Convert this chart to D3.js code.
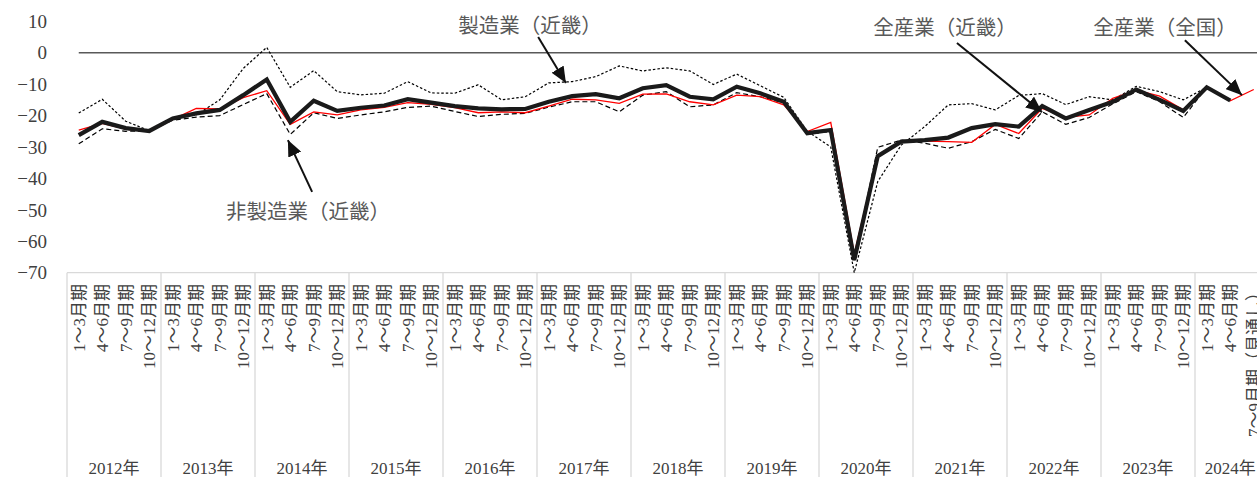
<!DOCTYPE html>
<html>
<head>
<meta charset="utf-8">
<script src="https://cdn.jsdelivr.net/npm/d3@7"></script>
<style>
  body { margin: 0; background: #fff; }
</style>
</head>
<body>
<svg id="chart" width="1257" height="477"></svg>
<script>
// 期間
var years = [2012, 2013, 2014, 2015, 2016, 2017, 2018, 2019, 2020, 2021, 2022, 2023, 2024]
var quarters = ["1～3月期", "4～6月期", "7～9月期", "10～12月期"]
var lastLabel = "7～9月期（見通し）"
var yTicks = [10, 0, -10, -20, -30, -40, -50, -60, -70]

// 全産業（近畿）
var kinkiAll = [-26.2, -22, -24, -24.9, -20.9, -19.3, -18.2, -13.5, -8.5, -22, -15.3, -18.5,
  -17.5, -16.8, -14.8, -15.9, -17, -17.7, -18, -17.9, -15.6, -13.8, -13.2, -14.5,
  -11.3, -10.3, -14, -14.8, -10.8, -12.9, -15.6, -25.6, -24.6, -66, -32.9, -28.3,
  -27.8, -27, -24, -22.7, -23.5, -17, -20.9, -18.2, -15.6, -11.7, -15, -18.5, -11, -15.2]
// 全産業（全国）
var nationAll = [-24.6, -22.5, -24.3, -25.1, -21.2, -17.7, -17.9, -14.3, -12.1, -22.8, -18.8, -19.8,
  -18.2, -17.4, -15.9, -16.4, -17.5, -19.1, -18.8, -19.1, -17, -14.8, -15, -16.1,
  -13.2, -13.1, -15.6, -16.6, -13.5, -14, -16.6, -25.1, -22.2, -64, -32.6, -28.1,
  -28.1, -28.3, -28.5, -22.8, -25.7, -17.7, -20.6, -19.8, -14.5, -11.9, -13.8, -18.2, -11, -15.3, -11.7]
// 製造業（近畿）
var kinkiMfg = [-19.2, -14.8, -21.8, -24.8, -20.9, -19.8, -15, -5, 1.7, -11, -5.7, -12.4,
  -13.4, -12.9, -9.2, -12.8, -12.9, -10.2, -15, -14, -9.6, -9.2, -7.6, -4.2,
  -5.8, -4.8, -5.8, -10.1, -6.8, -10.5, -14.2, -25, -30, -70, -41, -29.4,
  -23.5, -16.6, -16.2, -18.2, -13.6, -13, -16.5, -14, -15, -10.7, -12.4, -15, -11]
// 非製造業（近畿）
var kinkiNonMfg = [-29, -24.2, -25, -24.9, -21.5, -20.5, -20, -16.5, -13, -26, -19.1, -20.9,
  -19.8, -18.8, -17.4, -17, -18.7, -20.3, -19.6, -19.3, -17.3, -15.6, -15.6, -18.8,
  -13.5, -12.4, -17.2, -16.6, -12.7, -14, -15.9, -26, -25, -66, -30.1, -27.8,
  -28.8, -30.4, -28.3, -24.4, -27.3, -18.8, -22.8, -20.6, -16.3, -12.4, -15.6, -20.6, -11]

// 注記: [ラベル, 文字位置(期,値), 矢印の根元(期,値), 矢印の先(期,値)]
var notes = [
  ["製造業（近畿）", 19.2, 8.5, 19.55, 5, 20.73, -9.6],
  ["非製造業（近畿）", 9.76, -50.7, 9.93, -44.3, 8.9, -27.8],
  ["全産業（近畿）", 36.86, 7.9, 37.37, 3.1, 40.99, -18.9],
  ["全産業（全国）", 46.22, 7.9, 47.07, 4, 49.5, -13.5]
]

var width = 1257, height = 477
var font = "'Liberation Serif', 'Times New Roman', 'Noto Sans CJK JP', serif"
var svg = d3.select("#chart").attr("font-family", font)

var labels = []
years.forEach(y => quarters.forEach(q => labels.push(q)))
labels = labels.slice(0, nationAll.length)
labels[labels.length - 1] = lastLabel
var idx = d3.range(labels.length)

var x = d3.scaleBand().domain(idx).range([67, 67 + 23.5 * labels.length]).padding(0)
var xc = i => x(i) + x.bandwidth() / 2
var xf = v => x(0) + x.bandwidth() * (v + 0.5)  // 小数の期位置
var y = d3.scaleLinear().domain([-70, 10]).range([272.7, 21.3])

// カテゴリ枠
var grid = svg.append("g").attr("stroke", "#d9d9d9").attr("stroke-width", 1.3)
grid.append("line")
  .attr("x1", x(0)).attr("x2", width)
  .attr("y1", y(-70)).attr("y2", y(-70))
grid.selectAll(".sep")
  .data(years.map((d, k) => k * 4))
  .join("line")
  .attr("class", "sep")
  .attr("x1", d => x(d)).attr("x2", d => x(d))
  .attr("y1", y(-70)).attr("y2", height)

// y軸ラベル
svg.append("g").selectAll("text")
  .data(yTicks)
  .join("text")
  .attr("x", 47)
  .attr("y", d => y(d))
  .attr("dy", "0.35em")
  .attr("text-anchor", "end")
  .attr("font-size", 19)
  .attr("font-family", font)
  .attr("fill", "#404040")
  .text(d => d < 0 ? "−" + Math.abs(d) : d)

// 0 の線
svg.append("line")
  .attr("x1", xc(0)).attr("x2", width)
  .attr("y1", y(0)).attr("y2", y(0))
  .attr("stroke", "#595959").attr("stroke-width", 1.5)

// 四半期ラベル（縦）
svg.append("g").selectAll("text")
  .data(idx)
  .join("text")
  .attr("transform", d => "translate(" + (xc(d) + 6) + "," + 284 + ") rotate(-90)")
  .attr("text-anchor", "end")
  .attr("font-size", 17)
  .attr("font-family", font)
  .attr("fill", "#404040")
  .text(d => labels[d])

// 年ラベル
svg.append("g").selectAll("text")
  .data(years)
  .join("text")
  .attr("x", (d, k) => {
    var a = x(k * 4), b = Math.min(x(k * 4) + x.bandwidth() * 4, x(0) + x.bandwidth() * labels.length)
    return (a + b) / 2
  })
  .attr("y", 474)
  .attr("text-anchor", "middle")
  .attr("font-size", 17)
  .attr("font-family", font)
  .attr("fill", "#404040")
  .text(d => d + "年")

// 折れ線
var line = d3.line().x((d, i) => xc(i)).y(d => y(d))
var series = [
  { data: kinkiNonMfg, color: "#000", w: 1.2, dash: "5,3" },
  { data: kinkiMfg, color: "#000", w: 1.2, dash: "2.5,2" },
  { data: nationAll, color: "#ff0000", w: 1.3, dash: null },
  { data: kinkiAll, color: "#1a1a1a", w: 4.2, dash: null }
]
svg.append("g").selectAll("path")
  .data(series)
  .join("path")
  .attr("d", d => line(d.data))
  .attr("fill", "none")
  .attr("stroke", d => d.color)
  .attr("stroke-width", d => d.w)
  .attr("stroke-dasharray", d => d.dash)
  .attr("stroke-linejoin", "miter")

// 矢印
svg.append("defs").append("marker")
  .attr("id", "arrow")
  .attr("markerUnits", "userSpaceOnUse")
  .attr("viewBox", "0 0 16 14")
  .attr("refX", 16).attr("refY", 7)
  .attr("markerWidth", 16).attr("markerHeight", 14)
  .attr("orient", "auto")
  .append("path")
  .attr("d", "M0,0 L16,7 L0,14 Z")
  .attr("fill", "#111")

var ann = svg.append("g")
ann.selectAll("line")
  .data(notes)
  .join("line")
  .attr("x1", d => xf(d[3])).attr("y1", d => y(d[4]))
  .attr("x2", d => xf(d[5])).attr("y2", d => y(d[6]))
  .attr("stroke", "#111").attr("stroke-width", 2)
  .attr("marker-end", "url(#arrow)")
ann.selectAll("text")
  .data(notes)
  .join("text")
  .attr("x", d => xf(d[1])).attr("y", d => y(d[2]))
  .attr("dy", "0.35em")
  .attr("text-anchor", "middle")
  .attr("font-size", 20.5)
  .attr("font-family", font)
  .attr("fill", "#595959")
  .text(d => d[0])
</script>
</body>
</html>
